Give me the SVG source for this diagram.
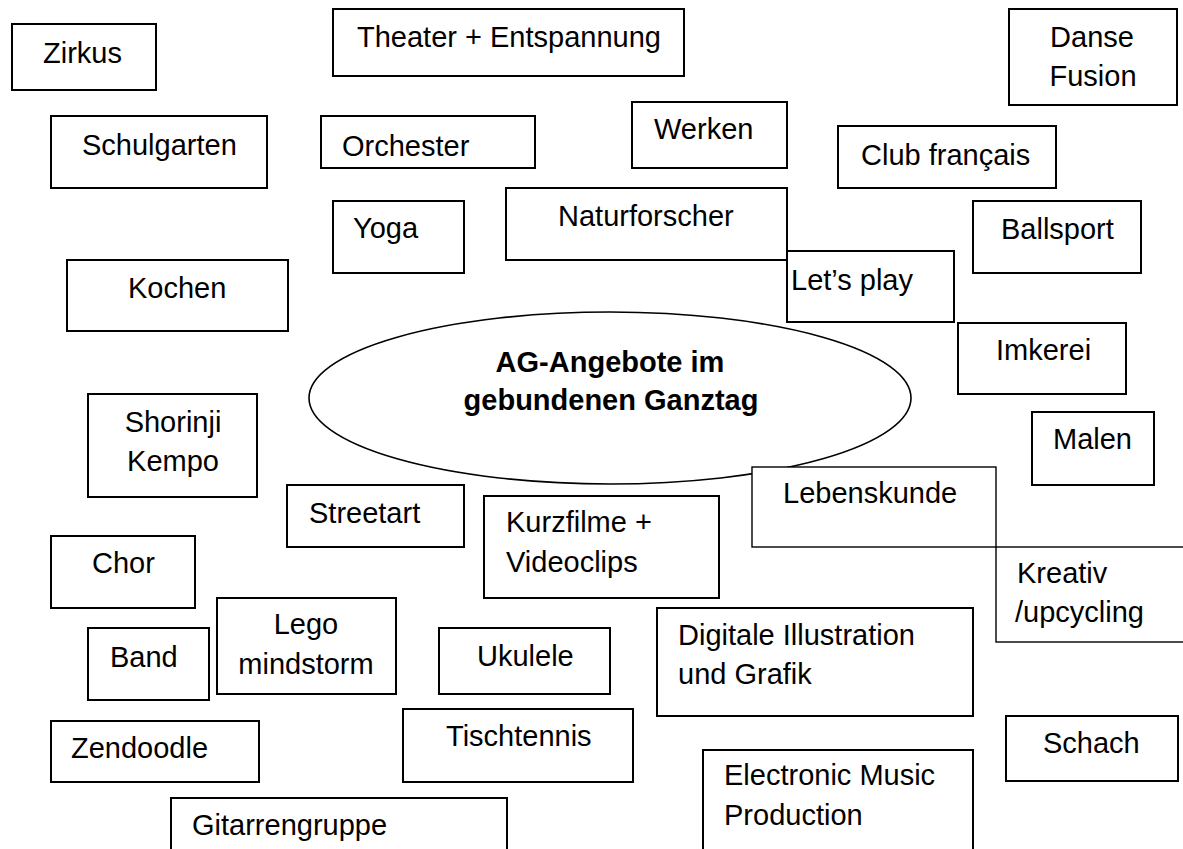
<svg xmlns="http://www.w3.org/2000/svg" width="1183" height="849" viewBox="0 0 1183 849">
<style>
  rect { fill: #fff; stroke: #000; stroke-width: 2; }
  rect.thin { stroke-width: 1.4; }
  ellipse { fill: #fff; stroke: #000; stroke-width: 1.6; }
  text { font-family: "Liberation Sans", Arial, sans-serif; font-size: 29px; fill: #000; }
  text.c { text-anchor: middle; }
  text.b { font-weight: bold; text-anchor: middle; }
</style>
<rect x="0" y="0" width="1183" height="849" style="fill:#fff;stroke:none"/>
<g id="connectors"></g>

<g id="zentrum">
  <ellipse cx="610" cy="398" rx="301" ry="86"/>
  <text class="b" x="610" y="372">AG-Angebote im</text>
  <text class="b" x="611" y="410">gebundenen Ganztag</text>
</g>

<g id="zirkus"><rect x="12" y="24" width="144" height="66"/><text x="43" y="63">Zirkus</text></g>
<g id="theater"><rect x="333" y="9" width="351" height="67"/><text x="357" y="47">Theater + Entspannung</text></g>
<g id="danse"><rect x="1009" y="9" width="168" height="96"/><text class="c" x="1092" y="47">Danse</text><text class="c" x="1093" y="86">Fusion</text></g>
<g id="schulgarten"><rect x="51" y="116" width="216" height="72"/><text x="82" y="155">Schulgarten</text></g>
<g id="orchester"><rect x="321" y="116" width="214" height="52"/><text x="342" y="156">Orchester</text></g>
<g id="werken"><rect x="632" y="102" width="155" height="66"/><text x="654" y="139">Werken</text></g>
<g id="club"><rect x="838" y="126" width="218" height="62"/><text x="861" y="165">Club français</text></g>
<g id="yoga"><rect x="333" y="201" width="131" height="72"/><text x="353" y="238">Yoga</text></g>
<g id="naturforscher"><rect x="506" y="188" width="281" height="72"/><text x="558" y="226">Naturforscher</text></g>
<g id="letsplay"><rect x="787" y="251" width="167" height="71"/><text x="791" y="290">Let’s play</text></g>
<g id="ballsport"><rect x="973" y="201" width="168" height="72"/><text x="1001" y="239">Ballsport</text></g>
<g id="kochen"><rect x="67" y="260" width="221" height="71"/><text x="128" y="298">Kochen</text></g>
<g id="imkerei"><rect x="958" y="323" width="168" height="71"/><text x="996" y="360">Imkerei</text></g>
<g id="shorinji"><rect x="88" y="394" width="169" height="103"/><text class="c" x="173" y="432">Shorinji</text><text class="c" x="173" y="471">Kempo</text></g>
<g id="malen"><rect x="1032" y="412" width="122" height="73"/><text x="1053" y="449">Malen</text></g>
<g id="lebenskunde"><rect class="thin" x="752" y="467" width="244" height="80"/><text x="783" y="503">Lebenskunde</text></g>
<g id="kreativ"><rect class="thin" x="996" y="547" width="200" height="95"/><text x="1017" y="583">Kreativ</text><text x="1015" y="622">/upcycling</text></g>
<g id="streetart"><rect x="287" y="485" width="177" height="62"/><text x="309" y="523">Streetart</text></g>
<g id="kurzfilme"><rect x="484" y="496" width="235" height="102"/><text x="506" y="532">Kurzfilme +</text><text x="506" y="572">Videoclips</text></g>
<g id="chor"><rect x="51" y="536" width="144" height="72"/><text x="92" y="573">Chor</text></g>
<g id="lego"><rect x="217" y="598" width="179" height="96"/><text class="c" x="306" y="634">Lego</text><text class="c" x="306" y="674">mindstorm</text></g>
<g id="band"><rect x="88" y="628" width="121" height="72"/><text x="110" y="667">Band</text></g>
<g id="ukulele"><rect x="439" y="628" width="171" height="66"/><text x="477" y="666">Ukulele</text></g>
<g id="digitale"><rect x="657" y="608" width="316" height="108"/><text x="678" y="645">Digitale Illustration</text><text x="678" y="684">und Grafik</text></g>
<g id="zendoodle"><rect x="51" y="721" width="208" height="61"/><text x="71" y="758">Zendoodle</text></g>
<g id="tischtennis"><rect x="403" y="709" width="230" height="73"/><text x="446" y="746">Tischtennis</text></g>
<g id="schach"><rect x="1006" y="716" width="172" height="65"/><text x="1043" y="753">Schach</text></g>
<g id="electronic"><rect x="703" y="750" width="270" height="110"/><text x="724" y="785">Electronic Music</text><text x="724" y="825">Production</text></g>
<g id="gitarren"><rect x="171" y="798" width="336" height="60"/><text x="192" y="835">Gitarrengruppe</text></g>
</svg>
